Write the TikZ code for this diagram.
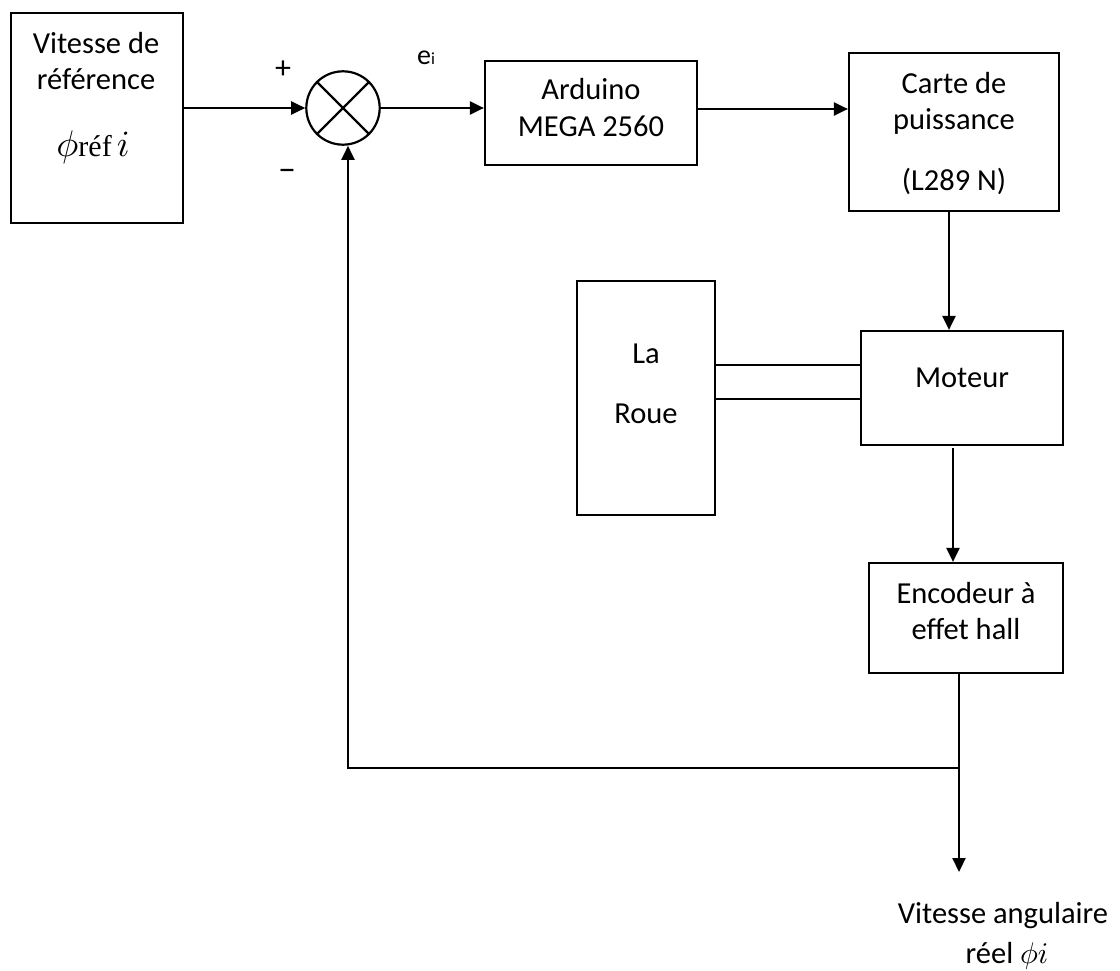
\documentclass[tikz,border=0pt]{standalone}
\usepackage{fontspec}
\setmainfont{Carlito}
\newfontfamily\seriffont{Liberation Serif}
\usetikzlibrary{arrows.meta}
\newcommand\fsz{\fontsize{30.5}{36}\selectfont}
\newcommand\bigmath[2][3]{{\fontsize{10}{12}\selectfont\scalebox{#1}{$#2$}}}
\tikzset{
  box/.style={draw, line width=2.2pt, inner sep=0pt, rectangle},
  txt/.style={inner sep=0pt, anchor=base, font=\fsz},
  arr/.style={line width=2.2pt, -{Triangle[length=14pt,width=13pt]}},
  ln/.style={line width=2.2pt}
}
\begin{document}
\begin{tikzpicture}[x=1pt,y=-1pt]
\useasboundingbox (0,0) rectangle (1120,971);
% boxes
\node[box, minimum width=172pt, minimum height=210pt] (ref) at (97,118) {};
\node[box, circle, minimum size=73.4pt] (sum) at (343,108) {};
\node[box, minimum width=212pt, minimum height=104pt] (ard) at (591,113) {};
\node[box, minimum width=210pt, minimum height=158pt] (carte) at (954,132) {};
\node[box, minimum width=138pt, minimum height=234pt] (roue) at (646,398) {};
\node[box, minimum width=202pt, minimum height=114pt] (mot) at (962,388) {};
\node[box, minimum width=194pt, minimum height=110pt] (enc) at (966,618) {};
% cross in the summing junction
\draw[ln] (sum.north west) -- (sum.south east);
\draw[ln] (sum.north east) -- (sum.south west);
% texts
\node[txt] (t1) at (96,54) {Vitesse de};
\node[txt] (t2) at (96,90) {référence};
\node[txt] (t3) at (93,157) {\bigmath[3.7]{\phi}{\seriffont\fontsize{30}{34}\selectfont réf}\,\bigmath[3.7]{i}};
\node[txt] (t4) at (591,100) {Arduino};
\node[txt] (t5) at (591,137) {MEGA 2560};
\node[txt] (t6) at (954,94) {Carte de};
\node[txt] (t7) at (954,130) {puissance};
\node[txt] (t8) at (954,190) {(L289 N)};
\node[txt] (t9) at (962,387) {Moteur};
\node[txt] (t10) at (646,363) {La};
\node[txt] (t11) at (646,423) {Roue};
\node[txt] (t12) at (966,603) {Encodeur à};
\node[txt] (t13) at (966,639) {effet hall};
\node[txt] (t14) at (1003,923) {Vitesse angulaire};
\node[txt] (t15) at (1007,963) {réel \bigmath[3]{\phi i}};
\node[inner sep=0pt, font=\fontsize{32}{32}\selectfont] (plus) at (283,70) {+};
\node[inner sep=0pt, font=\fontsize{36}{36}\selectfont] (minus) at (287,175) {–};
\node[inner sep=0pt, anchor=base west, font=\fontsize{28}{28}\selectfont] (ei) at (417,65) {e{\fontsize{17}{17}\selectfont i}};
% connectors
\draw[arr] (ref.east |- sum.west) -- (sum.west);
\draw[arr] (sum.east) -- (sum.east -| ard.west);
\draw[arr] ([yshift=4pt]ard.east) -- ([yshift=4pt]ard.east -| carte.west);
\draw[arr] ([xshift=-5pt]carte.south) -- ([xshift=-5pt]carte.south |- mot.north);
\draw[ln] ([yshift=33pt]roue.east) -- ([yshift=33pt]roue.east -| mot.west);
\draw[ln] ([yshift=-1pt]roue.east) -- ([yshift=-1pt]roue.east -| mot.west);
\draw[arr] ([xshift=-9pt,yshift=-2pt]mot.south) -- ([xshift=-9pt]mot.south |- enc.north);
\coordinate (jn) at ([xshift=-7pt]enc.south |- 0,768);
\coordinate (out) at ([xshift=-7pt]enc.south |- 0,872);
\draw[ln] ([xshift=-7pt]enc.south) -- (jn);
\draw[arr] (jn) -- (out);
\draw[arr] (jn) -| ([xshift=5pt]sum.south);
\end{tikzpicture}
\end{document}
